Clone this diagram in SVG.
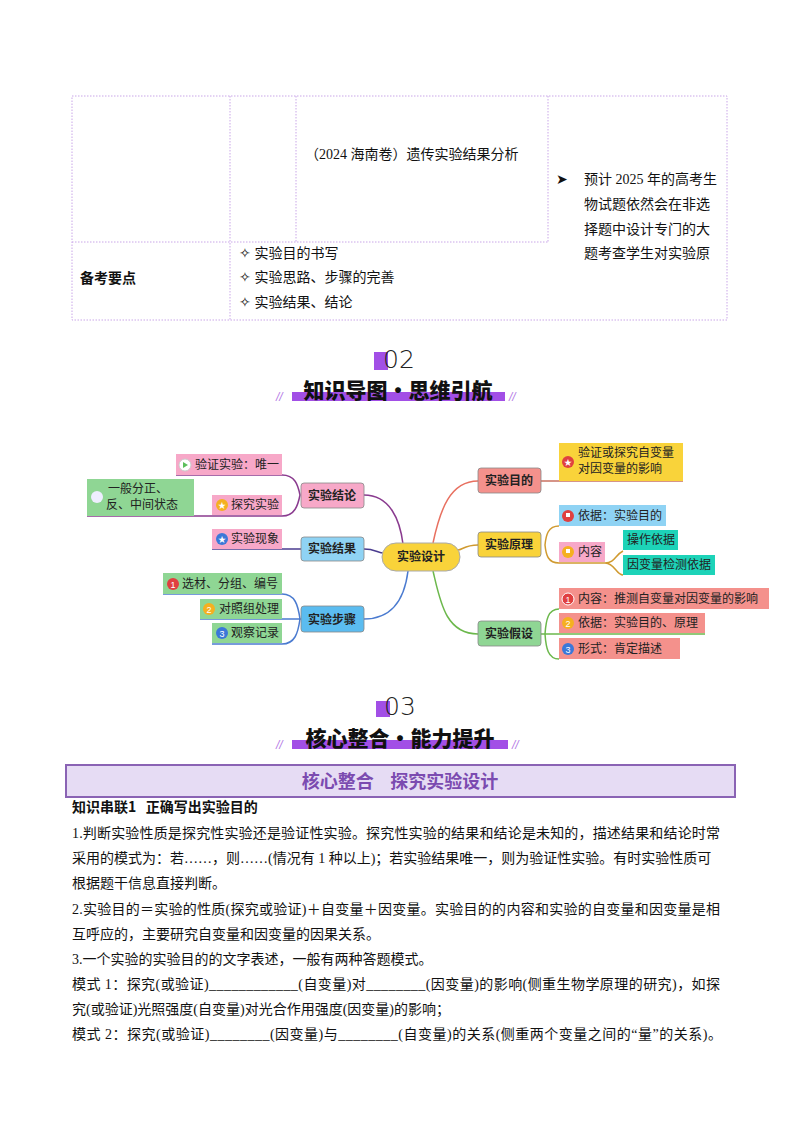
<svg xmlns="http://www.w3.org/2000/svg" width="800" height="1132" viewBox="0 0 800 1132">
<style>
text{font-family:"Liberation Serif","Noto Sans CJK SC",serif;fill:#111}
.t{font-size:14px}
.m{font-family:"Noto Sans CJK SC",sans-serif;font-size:12px;fill:#222}
.b{font-family:"Noto Sans CJK SC",sans-serif;font-size:12px;font-weight:bold;fill:#222}
.tl{fill:none;stroke:#c9a6e8;stroke-width:1;stroke-dasharray:1.5 1.5}
.n{stroke:#888;stroke-width:0.8}
.c{fill:none;stroke-width:1.5}
.h{font-family:"Noto Sans CJK SC",sans-serif;font-weight:900;font-size:21px;fill:#111}
.num{font-family:"DejaVu Sans",sans-serif;font-size:25px;font-weight:300;fill:#222}
</style>
<rect width="800" height="1132" fill="#fff"/>
<g id="table">
<rect class="tl" x="72" y="96" width="655" height="224"/>
<line class="tl" x1="230" y1="96" x2="230" y2="320"/>
<line class="tl" x1="296" y1="96" x2="296" y2="242"/>
<line class="tl" x1="548" y1="96" x2="548" y2="242"/>
<line class="tl" x1="72" y1="242" x2="548" y2="242"/>
<text class="t" x="305" y="159">（2024  海南卷）遗传实验结果分析</text>
<text class="t" x="556" y="184">➤</text>
<text class="t" x="584" y="184">预计 2025 年的高考生</text>
<text class="t" x="584" y="209">物试题依然会在非选</text>
<text class="t" x="584" y="234">择题中设计专门的大</text>
<text class="t" x="584" y="258">题考查学生对实验原</text>
<text class="t" x="80" y="283" style="font-family:'Noto Sans CJK SC',sans-serif;font-weight:bold">备考要点</text>
<text class="t" x="239" y="258">✧ 实验目的书写</text>
<text class="t" x="239" y="282">✧ 实验思路、步骤的完善</text>
<text class="t" x="239" y="307">✧ 实验结果、结论</text>
</g>
<g id="header02">
<rect x="374" y="352" width="14" height="18" fill="#a24fe6"/>
<text class="num" x="383" y="368">02</text>
<rect x="292" y="392" width="213" height="9" fill="#a24fe6"/>
<text class="h" x="398" y="398" text-anchor="middle">知识导图·思维引航</text>
<text x="276" y="401" style="font-size:12px;fill:#b57be6;font-style:italic;font-family:'Liberation Sans',sans-serif">//</text>
<text x="509" y="401" style="font-size:12px;fill:#b57be6;font-style:italic;font-family:'Liberation Sans',sans-serif">//</text>
</g>
<g id="connectors">
<path class="c" stroke="#8a3b8f" d="M364,495 C390,495 400,520 403,544"/>
<path class="c" stroke="#4a3b8f" d="M364,549 C375,549 378,553 384,553"/>
<path class="c" stroke="#4b7bd0" d="M364,619 C395,619 405,595 408,571"/>
<path class="c" stroke="#e87060" d="M478,481 C450,481 440,510 433,543"/>
<path class="c" stroke="#d09a30" d="M478,545 C465,545 462,550 458,550"/>
<path class="c" stroke="#6cb84c" d="M478,634 C445,634 440,600 433,571"/>
<path class="c" stroke="#8a3b8f" stroke-width="1" d="M176,475 H282 C295,475 298,485 300,495 C298,505 295,516 282,516 H87"/>
<path class="c" stroke="#4a3b8f" stroke-width="1" d="M212,549 H301"/>
<path class="c" stroke="#4b7bd0" stroke-width="1" d="M163,594 H282 C295,594 298,605 300,619 C298,633 295,644 282,644 H212 M200,619 H301"/>
<path class="c" stroke="#c87060" stroke-width="1" d="M541,481 H683"/>
<path class="c" stroke="#d09a30" stroke-width="1" d="M559,526 C548,526 546,535 545,545 C546,555 548,563 559,563 H605 C615,563 615,555 623,551 M605,563 C615,563 616,575 623,575"/>
<path class="c" stroke="#6cb84c" stroke-width="1" d="M559,609 C548,609 546,620 545,634 C546,648 548,659 559,659 M541,634 H705"/>
</g>
<g id="center"><rect x="382" y="543" width="78" height="28" rx="14" fill="#f9d33a" stroke="#aaa"/><text class="b" x="421" y="561" text-anchor="middle">实验设计</text></g>
<g id="jielun"><rect class="n" x="301" y="483" width="63" height="25" rx="3" fill="#f7a8c8"/><text class="b" x="332" y="500" text-anchor="middle">实验结论</text></g>
<g id="jieguo"><rect class="n" x="301" y="537" width="63" height="24" rx="3" fill="#8fd3f4"/><text class="b" x="332" y="553" text-anchor="middle">实验结果</text></g>
<g id="buzhou"><rect class="n" x="301" y="606" width="63" height="26" rx="3" fill="#5bbcf0"/><text class="b" x="332" y="624" text-anchor="middle">实验步骤</text></g>
<g id="yanzheng"><rect x="176" y="454" width="106" height="21" fill="#f7a8c8"/><circle cx="185" cy="465" r="6" fill="#fff" stroke="#ccc"/><path d="M183,462 L188,465 L183,468Z" fill="#5bbf5b"/><text class="m" x="195" y="469">验证实验：唯一</text></g>
<g id="tanjiu"><rect x="212" y="495" width="70" height="20" fill="#f7a8c8"/><circle cx="222" cy="505" r="6" fill="#f5b020"/><text x="222" y="508" text-anchor="middle" style="font-size:8px;fill:#fff">★</text><text class="m" x="231" y="509">探究实验</text></g>
<g id="yiban"><rect x="87" y="479" width="107" height="37" fill="#8fd694"/><circle cx="97" cy="497" r="6" fill="#eef" /><text class="m" x="108" y="493">一般分正、</text><text class="m" x="106" y="509">反、中间状态</text></g>
<g id="xianxiang"><rect x="212" y="529" width="70" height="20" fill="#f7a8c8"/><circle cx="222" cy="539" r="6" fill="#3b78d8"/><text x="222" y="542" text-anchor="middle" style="font-size:8px;fill:#fff">★</text><text class="m" x="231" y="543">实验现象</text></g>
<g id="xuancai"><rect x="163" y="573" width="119" height="21" fill="#8fd694"/><circle cx="173" cy="584" r="6" fill="#e04040"/><text x="173" y="588" text-anchor="middle" style="font-size:9px;fill:#fff;font-family:'Liberation Sans'">1</text><text class="m" x="182" y="588">选材、分组、编号</text></g>
<g id="duizhao"><rect x="200" y="599" width="82" height="20" fill="#8fd694"/><circle cx="209" cy="609" r="6" fill="#f5b020"/><text x="209" y="613" text-anchor="middle" style="font-size:9px;fill:#fff;font-family:'Liberation Sans'">2</text><text class="m" x="219" y="613">对照组处理</text></g>
<g id="guancha"><rect x="212" y="623" width="70" height="20" fill="#8fd694"/><circle cx="222" cy="633" r="6" fill="#3b78d8"/><text x="222" y="637" text-anchor="middle" style="font-size:9px;fill:#fff;font-family:'Liberation Sans'">3</text><text class="m" x="231" y="637">观察记录</text></g>
<g id="mudi"><rect class="n" x="478" y="468" width="63" height="25" rx="3" fill="#f4918c"/><text class="b" x="509" y="485" text-anchor="middle">实验目的</text></g>
<g id="yuanli"><rect class="n" x="478" y="532" width="63" height="25" rx="3" fill="#f9d33a"/><text class="b" x="509" y="549" text-anchor="middle">实验原理</text></g>
<g id="jiashe"><rect class="n" x="478" y="621" width="63" height="25" rx="3" fill="#8fd694"/><text class="b" x="509" y="638" text-anchor="middle">实验假设</text></g>
<g id="mudi1"><rect x="559" y="443" width="124" height="38" fill="#f9d33a"/><circle cx="568" cy="462" r="6" fill="#e04040"/><text x="568" y="465" text-anchor="middle" style="font-size:8px;fill:#fff">★</text><text class="m" x="578" y="457">验证或探究自变量</text><text class="m" x="578" y="473">对因变量的影响</text></g>
<g id="yiju1"><rect x="559" y="505" width="107" height="21" fill="#8fd3f4"/><circle cx="568" cy="516" r="6" fill="#e04040"/><rect x="566" y="513" width="4" height="4" fill="#fff"/><text class="m" x="578" y="520">依据：实验目的</text></g>
<g id="neirong"><rect x="559" y="542" width="46" height="20" fill="#f7a8c8"/><circle cx="568" cy="552" r="6" fill="#f5b020"/><rect x="566" y="549" width="4" height="4" fill="#fff"/><text class="m" x="578" y="556">内容</text></g>
<g id="caozuo"><rect x="623" y="530" width="55" height="20" fill="#1dd3b8"/><text class="m" x="627" y="544">操作依据</text></g>
<g id="jiance"><rect x="623" y="555" width="92" height="20" fill="#1dd3b8"/><text class="m" x="627" y="569">因变量检测依据</text></g>
<g id="js1"><rect x="559" y="588" width="210" height="21" fill="#f4918c"/><circle cx="568" cy="599" r="6" fill="#e04040" stroke="#fff"/><text x="568" y="603" text-anchor="middle" style="font-size:9px;fill:#fff;font-family:'Liberation Sans'">1</text><text class="m" x="578" y="603">内容：推测自变量对因变量的影响</text></g>
<g id="js2"><rect x="559" y="613" width="146" height="20" fill="#f4918c"/><circle cx="568" cy="623" r="6" fill="#f5b020"/><text x="568" y="627" text-anchor="middle" style="font-size:9px;fill:#fff;font-family:'Liberation Sans'">2</text><text class="m" x="578" y="627">依据：实验目的、原理</text></g>
<g id="js3"><rect x="559" y="638" width="121" height="21" fill="#f4918c"/><circle cx="568" cy="649" r="6" fill="#3b78d8"/><text x="568" y="653" text-anchor="middle" style="font-size:9px;fill:#fff;font-family:'Liberation Sans'">3</text><text class="m" x="578" y="653">形式：肯定描述</text></g>
<g id="header03">
<rect x="376" y="701" width="14" height="16" fill="#a24fe6"/>
<text class="num" x="384" y="715">03</text>
<rect x="292" y="740" width="216" height="9" fill="#a24fe6"/>
<text class="h" x="400" y="746" text-anchor="middle">核心整合·能力提升</text>
<text x="276" y="749" style="font-size:12px;fill:#b57be6;font-style:italic;font-family:'Liberation Sans',sans-serif">//</text>
<text x="512" y="749" style="font-size:12px;fill:#b57be6;font-style:italic;font-family:'Liberation Sans',sans-serif">//</text>
</g>
<g id="banner">
<rect x="66" y="765" width="669" height="32" fill="#e6dcf4" stroke="#8a63b4" stroke-width="2"/>
<text x="400" y="788" text-anchor="middle" style="font-family:'Noto Sans CJK SC',sans-serif;font-weight:bold;font-size:18px;fill:#7b4bb0" xml:space="preserve">核心整合    探究实验设计</text>
</g>
<g id="body">
<text class="t" x="72" y="812" style="font-family:'Noto Sans CJK SC',sans-serif;font-weight:bold" xml:space="preserve">知识串联1   正确写出实验目的</text>
<text class="t" x="72" y="838" textLength="648" lengthAdjust="spacing">1.判断实验性质是探究性实验还是验证性实验。探究性实验的结果和结论是未知的，描述结果和结论时常</text>
<text class="t" x="72" y="863">采用的模式为：若……，则……(情况有 1 种以上)；若实验结果唯一，则为验证性实验。有时实验性质可</text>
<text class="t" x="72" y="888">根据题干信息直接判断。</text>
<text class="t" x="72" y="914" textLength="648" lengthAdjust="spacing">2.实验目的＝实验的性质(探究或验证)＋自变量＋因变量。实验目的的内容和实验的自变量和因变量是相</text>
<text class="t" x="72" y="939">互呼应的，主要研究自变量和因变量的因果关系。</text>
<text class="t" x="72" y="964">3.一个实验的实验目的的文字表述，一般有两种答题模式。</text>
<text class="t" x="72" y="989" textLength="648" lengthAdjust="spacing">模式 1：探究(或验证)____________(自变量)对________(因变量)的影响(侧重生物学原理的研究)，如探</text>
<text class="t" x="72" y="1014">究(或验证)光照强度(自变量)对光合作用强度(因变量)的影响；</text>
<text class="t" x="72" y="1039" textLength="650" lengthAdjust="spacing">模式 2：探究(或验证)________(因变量)与________(自变量)的关系(侧重两个变量之间的“量”的关系)。</text>
</g>
</svg>
